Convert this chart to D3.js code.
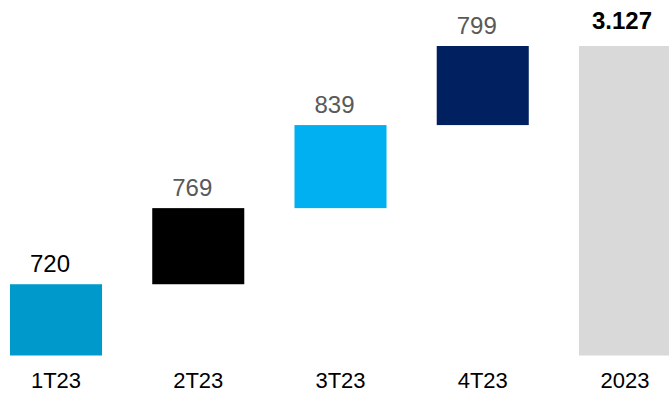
<!DOCTYPE html>
<html>
<head>
<meta charset="utf-8">
<script src="https://cdn.jsdelivr.net/npm/d3@7"></script>
<style>
  body { margin: 0; background: #fff; }
  svg text { font-family: "Liberation Sans", Arial, sans-serif; }
</style>
</head>
<body>
<div id="chart"></div>
<script>
// Quarterly contributions and the yearly total.
var categories = ["1T23", "2T23", "3T23", "4T23", "2023"];
var values = [720, 769, 839, 799, 3127];
var valueLabels = ["720", "769", "839", "799", "3.127"];
var colors = ["#0099CC", "#000000", "#00B0F0", "#002060", "#D9D9D9"];
var labelColors = ["#000000", "#595959", "#595959", "#595959", "#000000"];

var width = 669;
var height = 393;

var svg = d3.select("#chart").append("svg")
  .attr("width", width)
  .attr("height", height);

var x = d3.scaleBand()
  .domain(categories)
  .range([10, 671])
  .paddingInner(0.353)
  .paddingOuter(0);

var y = d3.scaleLinear()
  .domain([0, 3127])
  .range([355.5, 46]);

// waterfall steps: each quarter starts where the previous ended, the total starts at 0
var running = 0;
var bars = categories.map(function (c, i) {
  var isTotal = i === categories.length - 1;
  var start = isTotal ? 0 : running;
  var end = start + values[i];
  if (!isTotal) running = end;
  return { cat: c, start: start, end: end, total: isTotal, i: i };
});

svg.selectAll("rect.bar")
  .data(bars)
  .enter().append("rect")
  .attr("class", "bar")
  .attr("x", function (d) { return x(d.cat); })
  .attr("width", x.bandwidth())
  .attr("y", function (d) { return y(d.end); })
  .attr("height", function (d) { return y(d.start) - y(d.end); })
  .style("fill", function (d) { return colors[d.i]; });

// labels sit slightly left of the bar centre, as in the original
svg.selectAll("text.val")
  .data(bars)
  .enter().append("text")
  .attr("class", "val")
  .attr("x", function (d) { return x(d.cat) + x.bandwidth() / 2 + (d.total ? -3 : -6); })
  .attr("y", function (d) { return y(d.end) - (d.total ? 17.5 : 12); })
  .attr("text-anchor", "middle")
  .style("font-size", "24px")
  .style("font-weight", function (d) { return d.total ? "bold" : "normal"; })
  .style("fill", function (d) { return labelColors[d.i]; })
  .text(function (d) { return valueLabels[d.i]; });

svg.selectAll("text.cat")
  .data(categories)
  .enter().append("text")
  .attr("class", "cat")
  .attr("x", function (d) { return x(d) + x.bandwidth() / 2; })
  .attr("y", 388)
  .attr("text-anchor", "middle")
  .style("font-size", "22px")
  .style("fill", "#000")
  .text(function (d) { return d; });
</script>
</body>
</html>
